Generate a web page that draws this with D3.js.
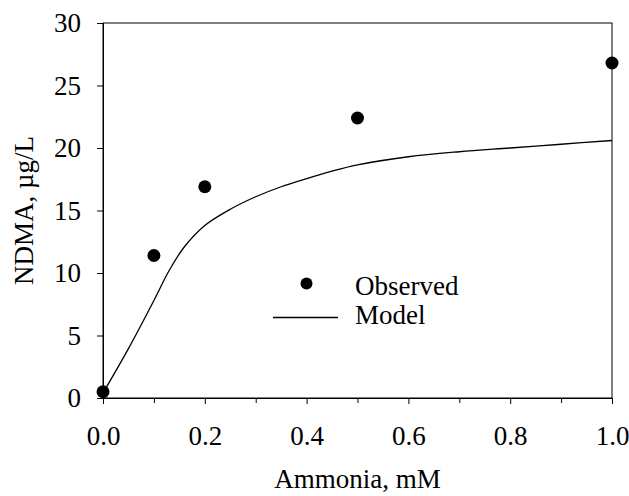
<!DOCTYPE html>
<html>
<head>
    <script src="https://d3js.org/d3.v7.min.js"></script>
    <style>
        body { margin: 0; background: #fff; }
        text { font-family: "Liberation Serif", "Times New Roman", serif; fill: #000; }
        .tick text { font-size: 27px; }
    </style>
</head>
<body>
    <script>
        var obsX = [0.0, 0.1, 0.2, 0.5, 1.0];
        var obsY = [0.5, 11.4, 16.9, 22.4, 26.8];

        var modelX = [0.0, 0.05, 0.1, 0.13, 0.16, 0.2, 0.25, 0.3, 0.35, 0.4, 0.45, 0.5, 0.6, 0.7, 0.8, 0.9, 1.0];
        var modelY = [0.4, 3.95, 7.8, 10.2, 12.1, 13.8, 15.1, 16.1, 16.9, 17.55, 18.15, 18.65, 19.3, 19.7, 20.0, 20.3, 20.6];

        var xTicks = [0, 0.2, 0.4, 0.6, 0.8, 1.0];
        var xMinor = [0.1, 0.3, 0.5, 0.7, 0.9];
        var yTicks = [0, 5, 10, 15, 20, 25, 30];

        var width = 629, height = 496;
        var margin = {left: 103, top: 23, right: 17, bottom: 98};

        var svg = d3.select("body").append("svg")
            .attr("width", width)
            .attr("height", height);

        var x = d3.scaleLinear().domain([0, 1]).range([margin.left, width - margin.right]);
        var y = d3.scaleLinear().domain([0, 30]).range([height - margin.bottom, margin.top]);

        // frame
        svg.append("rect")
            .attr("x", x(0)).attr("y", y(30))
            .attr("width", x(1) - x(0)).attr("height", y(0) - y(30))
            .attr("fill", "none").attr("stroke", "#000").attr("stroke-width", 1);

        svg.append("g")
            .attr("transform", "translate(0," + y(0) + ")")
            .call(d3.axisBottom(x).tickValues(xTicks).tickFormat(d3.format(".1f")).tickSize(6).tickPadding(22));
        svg.append("g")
            .attr("transform", "translate(0," + y(0) + ")")
            .call(d3.axisBottom(x).tickValues(xMinor).tickFormat("").tickSize(5))
            .select(".domain").remove();

        svg.append("g")
            .attr("transform", "translate(" + x(0) + ",0)")
            .call(d3.axisLeft(y).tickValues(yTicks).tickSize(6).tickPadding(16));

        svg.selectAll(".domain").attr("stroke", "#000");
        svg.selectAll(".tick line").attr("stroke", "#000");

        var line = d3.line()
            .x(function(d, i) { return x(modelX[i]); })
            .y(function(d, i) { return y(modelY[i]); })
            .curve(d3.curveCatmullRom.alpha(0.5));

        svg.append("path")
            .datum(modelX)
            .attr("d", line)
            .attr("fill", "none")
            .attr("stroke", "#000")
            .attr("stroke-width", 1.3);

        svg.selectAll(".obs")
            .data(obsX)
            .enter().append("circle")
            .attr("class", "obs")
            .attr("cx", function(d) { return x(d); })
            .attr("cy", function(d, i) { return y(obsY[i]); })
            .attr("r", 6.5)
            .attr("fill", "#000");

        // legend
        var legend = svg.append("g");
        legend.append("circle").attr("cx", 306.5).attr("cy", 283.5).attr("r", 6).attr("fill", "#000");
        legend.append("text").attr("x", 355).attr("y", 294.5).style("font-size", "27px").text("Observed");
        legend.append("line").attr("x1", 273).attr("x2", 338).attr("y1", 317.5).attr("y2", 317.5)
            .attr("stroke", "#000").attr("stroke-width", 1.3);
        legend.append("text").attr("x", 355).attr("y", 323.5).style("font-size", "27px").text("Model");

        // axis titles
        svg.append("text")
            .attr("x", (x(0) + x(1)) / 2).attr("y", 488)
            .attr("text-anchor", "middle")
            .style("font-size", "27px")
            .text("Ammonia, mM");

        svg.append("text")
            .attr("transform", "translate(33," + ((y(0) + y(30)) / 2) + ") rotate(-90)")
            .attr("text-anchor", "middle")
            .style("font-size", "27px")
            .text("NDMA, µg/L");
    </script>
</body>
</html>
